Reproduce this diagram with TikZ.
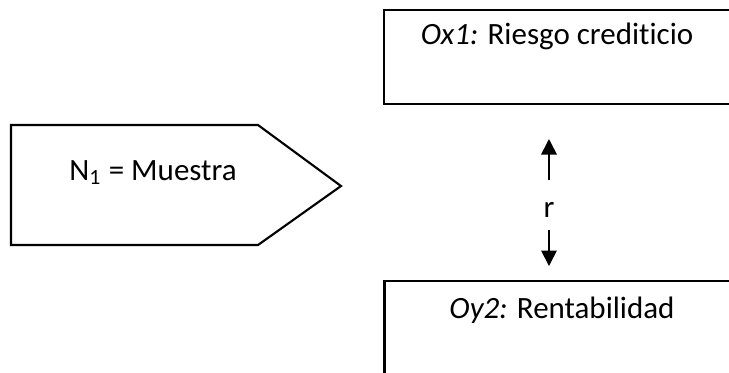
\documentclass[tikz,border=0pt]{standalone}
\usepackage{fontspec}
\setmainfont[Ligatures=NoCommon]{Carlito}
\usetikzlibrary{arrows.meta}
\tikzset{
  caja/.style={draw, line width=0.75pt, minimum width=122.8pt, minimum height=33.4pt, inner sep=0pt},
  texto/.style={anchor=base, inner sep=0pt, font=\fontsize{11}{13}\selectfont},
  flecha/.style={line width=0.6pt, -{Triangle[width=5.5pt,length=5.5pt]}}
}
\begin{document}
\begin{tikzpicture}[x=0.355pt, y=-0.355pt]
      \clip (0,0) rectangle (729,372);
      % muestra
      \draw[line width=0.75pt]
        (11,125) coordinate (m1) -- (258,125) coordinate (m2)
        -- (341,186) coordinate (m3) -- (258,245) coordinate (m4)
        -- (11,245) coordinate (m5) -- cycle;
      \node (n1) [texto] at (153,180) {N\textsubscript{1} = Muestra};
      % observaciones
      \node (ox1) [caja] at (557,57) {};
      \node (ox1t) [texto] at (557,44) {{\itshape Ox1:} Riesgo crediticio};
      \node (oy2) [caja] at (557.5,328) {};
      \node (oy2t) [texto] at (562,318) {{\itshape Oy2:} Rentabilidad};
      % relacion
      \node (r) [texto] at (549,217) {r};
      \coordinate (r1) at (549,180);
      \coordinate (r2) at (549,139);
      \coordinate (r3) at (549,230);
      \coordinate (r4) at (549,266);
      \begin{scope}[flecha]
        \draw (r1) to (r2);
        \draw (r3) to (r4);
      \end{scope}
    \end{tikzpicture}
\end{document}
